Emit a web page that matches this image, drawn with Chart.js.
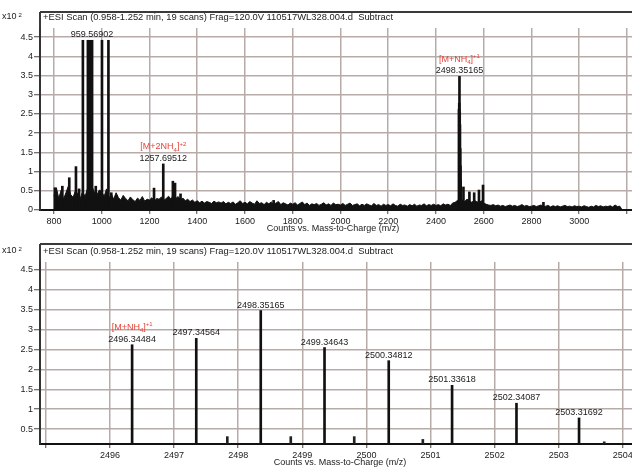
<!DOCTYPE html>
<html>
<head>
<meta charset="utf-8">
<script src="https://cdn.jsdelivr.net/npm/chart.js@4.4.1/dist/chart.umd.min.js"></script>
<style>
  html, body { margin: 0; padding: 0; background: #fff; overflow: hidden; }
  canvas { display: block; }
</style>
</head>
<body>
<canvas id="fullChart" width="632" height="235"></canvas>
<canvas id="zoomChart" width="632" height="234"></canvas>
<script>
// ---- data (counts in units of 10^2) ----
const scanTitle = '+ESI Scan (0.958-1.252 min, 19 scans) Frag=120.0V 110517WL328.004.d  Subtract';
const xAxisTitle = 'Counts vs. Mass-to-Charge (m/z)';

const fullXTicks = [800, 1000, 1200, 1400, 1600, 1800, 2000, 2200, 2400, 2600, 2800, 3000, 3200];
const fullXLabels = ['800', '1000', '1200', '1400', '1600', '1800', '2000', '2200', '2400', '2600', '2800', '3000', ''];
const fullYTicks = [0, 0.5, 1, 1.5, 2, 2.5, 3, 3.5, 4, 4.5];
const fullYLabels = ['0', '0.5', '1', '1.5', '2', '2.5', '3', '3.5', '4', '4.5'];

const zoomXTicks = [2495, 2496, 2497, 2498, 2499, 2500, 2501, 2502, 2503, 2504];
const zoomXLabels = ['', '2496', '2497', '2498', '2499', '2500', '2501', '2502', '2503', '2504'];
const zoomYTicks = [0.5, 1, 1.5, 2, 2.5, 3, 3.5, 4, 4.5];
const zoomYLabels = ['0.5', '1', '1.5', '2', '2.5', '3', '3.5', '4', '4.5'];

// chemical noise of the full scan, one level every 10 m/z from 800
const noiseStart = 800;
const noiseStep = 10;
const noiseLevels = [
  0.36, 0.58, 0.30, 0.52, 0.28, 0.45, 0.62, 0.40, 0.33, 0.50,
  0.42, 0.30, 0.48, 0.35, 0.55, 0.38, 0.60, 0.45, 0.40, 0.52,
  0.48, 0.35, 0.55, 0.30, 0.42, 0.28, 0.45, 0.32, 0.26, 0.38,
  0.30, 0.24, 0.34, 0.27, 0.22, 0.31, 0.25, 0.35, 0.23, 0.28,
  0.26, 0.32, 0.22, 0.30, 0.28, 0.34, 0.25, 0.30, 0.36, 0.28,
  0.40, 0.30, 0.35, 0.26, 0.31, 0.24, 0.28, 0.22, 0.26, 0.20,
  0.24, 0.19, 0.23, 0.18, 0.22, 0.20, 0.17, 0.23, 0.19, 0.21,
  0.18, 0.22, 0.16, 0.20, 0.17, 0.21, 0.15, 0.19, 0.24, 0.17,
  0.20, 0.16, 0.22, 0.18, 0.15, 0.24, 0.17, 0.19, 0.14, 0.20,
  0.16, 0.21, 0.15, 0.18, 0.22, 0.14, 0.19, 0.16, 0.13, 0.18,
  0.15, 0.19, 0.13, 0.17, 0.21, 0.14, 0.18, 0.12, 0.16, 0.14,
  0.17, 0.12, 0.15, 0.19, 0.13, 0.16, 0.12, 0.18, 0.14, 0.15,
  0.13, 0.17, 0.12, 0.15, 0.18, 0.12, 0.14, 0.16, 0.11, 0.15,
  0.12, 0.16, 0.13, 0.11, 0.17, 0.12, 0.14, 0.10, 0.15, 0.12,
  0.14, 0.11, 0.16, 0.12, 0.10, 0.15, 0.12, 0.13, 0.10, 0.14,
  0.11, 0.15, 0.10, 0.13, 0.12, 0.16, 0.11, 0.14, 0.12, 0.15,
  0.12, 0.14, 0.11, 0.16, 0.13, 0.15, 0.12, 0.18, 0.20, 0.25,
  0.30, 0.26, 0.22, 0.28, 0.24, 0.20, 0.25, 0.22, 0.19, 0.24,
  0.18, 0.15, 0.13, 0.12, 0.14, 0.11, 0.13, 0.10, 0.12, 0.09,
  0.11, 0.13, 0.10, 0.12, 0.09, 0.11, 0.14, 0.10, 0.12, 0.09,
  0.10, 0.12, 0.09, 0.11, 0.13, 0.09, 0.10, 0.12, 0.08, 0.11,
  0.09, 0.11, 0.08, 0.10, 0.12, 0.09, 0.10, 0.08, 0.11, 0.09,
  0.10, 0.08, 0.11, 0.09, 0.07, 0.10, 0.08, 0.12, 0.09, 0.11,
  0.08, 0.10, 0.09, 0.11, 0.08, 0.13, 0.09, 0.10, 0
];

// isotope cluster of [M+NH4]+
const isoMz = [2496.34484, 2497.34564, 2498.35165, 2499.34643, 2500.34812, 2501.33618, 2502.34087, 2503.31692];
const isoCounts = [2.62, 2.78, 3.48, 2.55, 2.22, 1.60, 1.15, 0.78];
const minorMz = [2497.83, 2498.82, 2499.81, 2500.88, 2503.71];
const minorCounts = [0.31, 0.31, 0.31, 0.24, 0.18];

// other sticks of the full scan
const fullPeakMz = [804, 835, 864, 892, 905, 921, 942, 952, 959.56902, 975, 1001, 1028, 1040, 1062,
  1219, 1257.69512, 1298, 1307, 1330, 1720, 2515, 2540, 2560, 2580, 2597, 2850];
const fullPeakCounts = [0.58, 0.62, 0.84, 1.13, 0.55, 4.42, 4.42, 4.42, 4.42, 0.62, 4.42, 4.42, 0.45, 0.38,
  0.57, 1.20, 0.75, 0.70, 0.42, 0.25, 0.60, 0.47, 0.45, 0.52, 0.65, 0.20];

// labelled peaks: [m/z, counts, charge label parts or null]
const fullLabels = [[959.56902, 4.42, null], [1257.69512, 1.20, ['[M+2NH', '4', ']', '+2']], [2498.35165, 3.48, ['[M+NH', '4', ']', '+1']]];
const zoomLabels = isoMz.map((mz, i) => [mz, isoCounts[i], i === 0 ? ['[M+NH', '4', ']', '+1'] : null]);

const FONT = 'Liberation Sans, Arial, sans-serif';
const GRID = '#b7aba7';
const RED = '#e2463d';

function pts(xs, ys) { return xs.map((x, i) => ({ x: x, y: ys[i] })); }

function chargeLabel(ctx, parts, cx, cy) {
  const big = '9px ' + FONT, small = '6px ' + FONT;
  const fonts = [big, small, big, small];
  let w = 0;
  parts.forEach((p, i) => { ctx.font = fonts[i]; w += ctx.measureText(p).width; });
  let x = cx - w / 2;
  ctx.fillStyle = RED;
  ctx.textAlign = 'left';
  ctx.textBaseline = 'middle';
  const dy = [0, 3, 0, -3];
  parts.forEach((p, i) => {
    ctx.font = fonts[i];
    ctx.fillText(p, x, cy + dy[i]);
    x += ctx.measureText(p).width;
  });
}

function decorations(frameTop, titleY, axisTitleX, axisTitleY, labels) {
  return {
    id: 'decorations',
    afterDraw(chart) {
      const ctx = chart.ctx, area = chart.chartArea;
      const xs = chart.scales.x, ys = chart.scales.y;
      ctx.save();
      // frame above the title and left edge up to it
      ctx.strokeStyle = '#3a3a3a';
      ctx.lineWidth = 2;
      ctx.beginPath();
      ctx.moveTo(area.left, frameTop);
      ctx.lineTo(chart.width, frameTop);
      ctx.moveTo(area.left, frameTop);
      ctx.lineTo(area.left, area.top);
      ctx.stroke();
      // x10^2 note and scan title
      ctx.fillStyle = '#222';
      ctx.textBaseline = 'middle';
      ctx.textAlign = 'left';
      ctx.font = '9px ' + FONT;
      ctx.fillText('x10', 2, titleY);
      const w = ctx.measureText('x10').width;
      ctx.font = '6px ' + FONT;
      ctx.fillText('2', 2 + w + 2, titleY - 2);
      ctx.font = '9.4px ' + FONT;
      ctx.fillText(scanTitle, area.left + 3, titleY);
      ctx.font = '9px ' + FONT;
      ctx.textAlign = 'center';
      ctx.fillText(xAxisTitle, axisTitleX, axisTitleY);
      // peak annotations
      labels.forEach(([mz, c, charge]) => {
        const px = xs.getPixelForValue(mz);
        const py = ys.getPixelForValue(c);
        ctx.fillStyle = '#1a1a1a';
        ctx.font = '9px ' + FONT;
        ctx.textAlign = 'center';
        ctx.textBaseline = 'bottom';
        ctx.fillText(mz.toFixed(5), px, py - 1);
        if (charge) chargeLabel(ctx, charge, px, py - 17);
      });
      ctx.restore();
    }
  };
}

function axes(xMin, xMax, xTicks, xLabels, yMin, yMax, yTicks, yLabels) {
  return {
    x: {
      type: 'linear', min: xMin, max: xMax, offset: false,
      afterBuildTicks: s => { s.ticks = xTicks.map(v => ({ value: v })); },
      afterFit: s => { s.height = 25; s.paddingLeft = 0; s.paddingRight = 0; },
      grid: { offset: false, color: GRID, lineWidth: 1.5, tickLength: 4, tickColor: '#444', tickWidth: 1 },
      border: { color: '#111', width: 2 },
      ticks: { autoSkip: false, maxRotation: 0, padding: 2, color: '#222', font: { family: FONT, size: 9 },
        callback: (v, i) => xLabels[i] }
    },
    y: {
      min: yMin, max: yMax,
      afterBuildTicks: s => { s.ticks = yTicks.map(v => ({ value: v })); },
      afterFit: s => { s.width = 40; },
      grid: { color: GRID, lineWidth: 1.5, tickLength: 6, tickColor: '#444', tickWidth: 1 },
      border: { color: '#333', width: 2 },
      ticks: { padding: 1, color: '#222', font: { family: FONT, size: 9 },
        callback: (v, i) => yLabels[i] }
    }
  };
}

const baseOptions = {
  responsive: false,
  animation: false,
  plugins: { legend: { display: false }, tooltip: { enabled: false } }
};

const noisePts = noiseLevels.map((v, i) => ({ x: noiseStart + i * noiseStep, y: v }));

new Chart(document.getElementById('fullChart'), {
  type: 'bar',
  data: {
    datasets: [
      { type: 'line', data: noisePts, borderColor: '#111', backgroundColor: '#111', borderWidth: 1,
        fill: 'origin', pointRadius: 0, tension: 0, order: 2 },
      { data: pts(fullPeakMz, fullPeakCounts), backgroundColor: '#111', barThickness: 2, grouped: false, order: 1 },
      { data: pts(isoMz, isoCounts), backgroundColor: '#111', barThickness: 2, grouped: false, order: 1 }
    ]
  },
  options: Object.assign({}, baseOptions, {
    layout: { padding: { top: 28, left: 0, right: 0, bottom: 0 } },
    scales: axes(741.4, 3221, fullXTicks, fullXLabels, 0, 4.74, fullYTicks, fullYLabels)
  }),
  plugins: [decorations(12, 17, 333, 229, fullLabels)]
});

new Chart(document.getElementById('zoomChart'), {
  type: 'bar',
  data: {
    datasets: [
      { data: pts(isoMz, isoCounts), backgroundColor: '#111', barThickness: 2, grouped: false },
      { data: pts(minorMz, minorCounts), backgroundColor: '#222', barThickness: 2, grouped: false }
    ]
  },
  options: Object.assign({}, baseOptions, {
    layout: { padding: { top: 27, left: 0, right: 0, bottom: 0 } },
    scales: axes(2494.908, 2504.143, zoomXTicks, zoomXLabels, 0.125, 4.7, zoomYTicks, zoomYLabels)
  }),
  plugins: [decorations(9, 16, 340, 228, zoomLabels)]
});
</script>
</body>
</html>
